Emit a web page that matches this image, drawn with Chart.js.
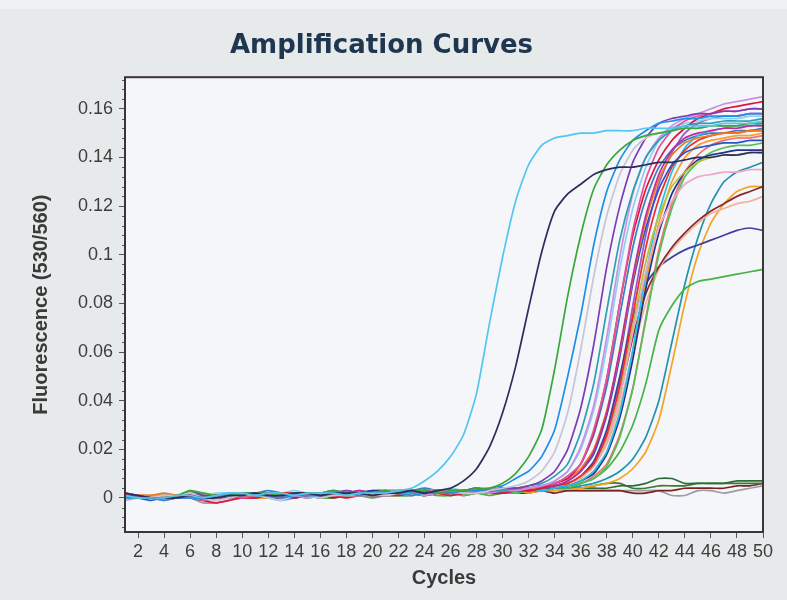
<!DOCTYPE html>
<html>
<head>
<meta charset="utf-8">
<title>Amplification Curves</title>
<script src="https://cdn.jsdelivr.net/npm/chart.js@4.4.1/dist/chart.umd.min.js"></script>
<style>
  html, body { margin: 0; padding: 0; background: #e7eaeb; }
  #wrap { width: 787px; height: 600px; }
</style>
</head>
<body>
<div id="wrap"><canvas id="amp" width="787" height="600"></canvas></div>
<script>
// cycle numbers and axis ticks
var cycles = [1,2,3,4,5,6,7,8,9,10,11,12,13,14,15,16,17,18,19,20,21,22,23,24,25,26,27,28,29,30,
  31,32,33,34,35,36,37,38,39,40,41,42,43,44,45,46,47,48,49,50];
var xTicks = [2,4,6,8,10,12,14,16,18,20,22,24,26,28,30,32,34,36,38,40,42,44,46,48,50];
var yTicks = [0, 0.02, 0.04, 0.06, 0.08, 0.1, 0.12, 0.14, 0.16];
var yTickLabels = ['0', '0.02', '0.04', '0.06', '0.08', '0.1', '0.12', '0.14', '0.16'];

// fluorescence per cycle, one array per well
var skyBlue = [.001,.000,.000,.000,.001,.001,.000,.001,.002,.002,
  .001,.002,.002,.001,.002,.002,.002,.001,.002,.002,
  .002,.003,.004,.007,.011,.017,.026,.043,.072,.099,
  .122,.137,.145,.148,.149,.150,.150,.151,.151,.151,
  .152,.152,.152,.153,.153,.153,.154,.154,.154,.155];
var navy = [.002,.001,.000,.000,.000,.001,.000,.000,.001,.001,
  .002,.001,.001,.002,.002,.001,.002,.002,.002,.001,
  .002,.002,.003,.002,.003,.004,.007,.012,.021,.035,
  .054,.078,.101,.118,.125,.129,.133,.135,.136,.136,
  .137,.138,.138,.139,.140,.140,.141,.141,.142,.142];
var green = [.001,.000,.000,.000,.001,.003,.002,.001,.001,.002,
  .002,.002,.001,.002,.002,.002,.003,.002,.002,.002,
  .003,.002,.003,.003,.002,.003,.003,.004,.004,.006,
  .010,.017,.028,.053,.083,.108,.127,.137,.143,.147,
  .149,.150,.151,.152,.152,.153,.153,.153,.154,.154];
var dodger = [.000,.000,.000,-.001,.000,.000,.000,.001,.001,.002,
  .001,.001,.000,.001,.001,.001,.002,.002,.001,.002,
  .002,.002,.001,.002,.002,.002,.003,.003,.004,.005,
  .008,.011,.017,.028,.050,.075,.104,.126,.139,.147,
  .151,.154,.155,.156,.156,.157,.157,.157,.158,.158];
var lightGrey = [.000,.000,.000,.001,.001,.002,.000,-.001,.000,.001,
  .001,.000,-.001,.001,.001,.000,.001,.001,.001,.002,
  .001,.002,.001,.002,.002,.003,.002,.002,.003,.004,
  .005,.007,.011,.019,.035,.061,.091,.116,.133,.143,
  .148,.150,.151,.152,.152,.153,.153,.153,.154,.154];
var purple = [.001,.001,.000,.000,.000,.003,.001,.001,.000,.001,
  .002,.002,.001,.002,.002,.001,.002,.003,.002,.002,
  .003,.002,.003,.003,.002,.003,.003,.004,.003,.004,
  .004,.005,.007,.011,.020,.037,.063,.095,.120,.138,
  .148,.154,.156,.157,.158,.158,.159,.159,.160,.160];
var teal = [.001,.000,.000,.000,.000,.001,.000,.000,.001,.001,
  .002,.001,.001,.002,.001,.002,.002,.001,.002,.002,
  .002,.003,.002,.002,.003,.002,.003,.003,.003,.003,
  .004,.005,.006,.009,.014,.027,.047,.077,.106,.126,
  .140,.147,.151,.153,.154,.154,.155,.155,.155,.156];
var lilac = [-.001,.000,.000,-.001,.000,.000,.000,.000,.001,.002,
  .001,.001,.000,.001,.000,.001,.002,.002,.001,.001,
  .001,.002,.002,.001,.002,.002,.002,.003,.002,.003,
  .003,.004,.005,.007,.011,.021,.038,.066,.099,.125,
  .140,.148,.153,.156,.158,.160,.162,.163,.164,.165];
var pink = [.002,.001,.000,-.001,.000,.000,-.001,.000,.001,.000,
  .001,.002,.001,.001,.002,.001,.001,.002,.002,.001,
  .002,.002,.002,.003,.002,.002,.003,.002,.003,.004,
  .003,.004,.005,.006,.009,.014,.028,.049,.080,.110,
  .131,.144,.151,.155,.157,.158,.159,.159,.160,.160];
var crimson = [.002,.000,.000,.000,.001,.001,-.001,-.002,-.001,.000,
  .000,.001,.001,.000,.001,.001,.001,.000,.001,.002,
  .002,.001,.002,.002,.002,.001,.002,.003,.002,.002,
  .003,.003,.004,.006,.008,.014,.027,.049,.080,.108,
  .127,.139,.147,.152,.156,.158,.160,.161,.162,.163];
var magenta = [.001,.001,.000,.000,.001,.001,.000,.000,.000,.001,
  .001,.002,.002,.001,.001,.002,.002,.002,.003,.002,
  .002,.003,.003,.002,.002,.003,.002,.003,.003,.003,
  .004,.003,.004,.005,.007,.011,.019,.035,.061,.091,
  .116,.133,.143,.148,.150,.151,.152,.152,.153,.153];
var orange = [.000,.001,.001,.002,.001,.000,.001,.001,.000,.000,
  .001,.001,.002,.001,.002,.002,.001,.001,.002,.001,
  .002,.002,.003,.002,.003,.003,.003,.002,.003,.004,
  .004,.004,.004,.006,.008,.012,.020,.036,.060,.090,
  .114,.131,.141,.146,.148,.149,.150,.150,.151,.151];
var royal = [.001,.000,-.001,.000,.000,.001,.001,.000,.001,.002,
  .002,.001,.001,.000,.001,.002,.001,.002,.002,.002,
  .001,.002,.002,.003,.002,.002,.002,.003,.003,.002,
  .003,.003,.004,.005,.007,.011,.018,.034,.058,.088,
  .111,.127,.137,.142,.144,.145,.146,.146,.147,.147];
var red = [.001,.001,.000,.000,.000,.000,.000,.001,.001,.001,
  .000,.001,.002,.002,.001,.001,.002,.001,.002,.002,
  .002,.002,.001,.002,.003,.002,.002,.003,.002,.003,
  .003,.004,.004,.005,.006,.009,.014,.026,.046,.075,
  .103,.123,.136,.143,.147,.149,.150,.150,.151,.151];
var lightPink = [.002,.001,.001,.000,.000,.001,.000,-.001,.000,.000,
  .001,.001,.002,.001,.001,.002,.002,.003,.002,.002,
  .002,.003,.002,.003,.003,.002,.003,.003,.004,.003,
  .004,.004,.004,.005,.006,.009,.013,.023,.041,.068,
  .093,.111,.122,.129,.132,.133,.134,.134,.135,.135];
var yellowGreen = [.000,.000,.001,.001,.000,.002,.001,.000,.001,.001,
  .002,.002,.001,.001,.002,.001,.002,.002,.001,.002,
  .003,.002,.002,.002,.003,.003,.002,.003,.003,.003,
  .004,.003,.004,.005,.006,.009,.013,.024,.043,.071,
  .097,.116,.128,.134,.138,.140,.141,.141,.142,.142];
var cyan = [.001,.000,.000,.000,.000,.000,.000,.001,.002,.002,
  .001,.000,-.001,.000,.001,.001,.001,.002,.001,.002,
  .002,.002,.003,.002,.002,.003,.003,.002,.003,.003,
  .003,.004,.003,.004,.005,.007,.011,.019,.035,.061,
  .092,.117,.134,.144,.149,.151,.152,.153,.153,.154];
var darkBlue = [.001,.001,.000,.001,.001,.001,.000,.000,.000,.001,
  .001,.002,.001,.002,.001,.002,.002,.001,.002,.003,
  .002,.002,.002,.003,.003,.002,.002,.003,.003,.004,
  .003,.004,.004,.004,.005,.007,.010,.018,.033,.057,
  .086,.109,.125,.134,.139,.141,.142,.143,.143,.143];
var orange2 = [.000,.000,.000,.000,.001,.001,.001,.000,.001,.001,
  .001,.001,.001,.002,.002,.001,.001,.001,.002,.002,
  .002,.003,.002,.002,.002,.003,.002,.002,.002,.003,
  .003,.003,.004,.004,.005,.007,.011,.019,.035,.060,
  .089,.113,.130,.140,.145,.147,.148,.149,.149,.150];
var lightBlue = [.001,.000,.000,.000,.000,.001,.001,.002,.002,.001,
  .002,.002,.002,.003,.002,.002,.002,.003,.002,.002,
  .003,.003,.003,.002,.003,.004,.003,.003,.003,.004,
  .004,.004,.005,.007,.011,.020,.036,.062,.094,.119,
  .136,.147,.152,.154,.155,.156,.156,.156,.157,.157];
var green2 = [.000,.000,.001,.000,.000,.002,.002,.001,.000,.001,
  .001,.001,.002,.001,.000,.001,.001,.002,.001,.002,
  .002,.001,.002,.002,.003,.002,.001,.002,.002,.003,
  .002,.003,.003,.004,.005,.006,.008,.013,.025,.045,
  .073,.100,.119,.132,.138,.142,.144,.145,.145,.146];
var steel = [.001,.001,.000,.000,.000,.001,.000,.000,.001,.002,
  .002,.003,.002,.001,.002,.002,.003,.002,.003,.002,
  .002,.003,.003,.004,.003,.003,.003,.004,.003,.004,
  .004,.004,.005,.006,.009,.014,.026,.046,.075,.103,
  .123,.136,.143,.147,.149,.150,.150,.151,.151,.152];
var brown = [.000,.000,.000,.000,.000,.000,.000,.000,.001,.001,
  .001,.000,.000,.001,.001,.001,.000,.001,.001,.001,
  .001,.002,.002,.001,.002,.002,.002,.003,.003,.002,
  .003,.003,.004,.005,.006,.009,.014,.024,.042,.066,
  .084,.095,.103,.109,.114,.118,.121,.124,.126,.128];
var peach = [.001,.000,.000,.001,.001,.001,.000,.000,.001,.001,
  .002,.001,.002,.002,.001,.002,.002,.002,.001,.002,
  .002,.002,.002,.003,.002,.003,.003,.003,.003,.003,
  .004,.004,.004,.005,.006,.008,.013,.022,.038,.060,
  .080,.094,.102,.108,.113,.117,.119,.121,.122,.124];
var slate = [.002,.001,.000,.000,.000,.001,.001,.001,.002,.002,
  .001,.001,.002,.002,.002,.001,.002,.002,.002,.003,
  .003,.002,.002,.003,.003,.003,.002,.003,.003,.004,
  .004,.004,.005,.005,.006,.009,.015,.028,.050,.074,
  .088,.095,.099,.102,.104,.106,.108,.110,.111,.110];
var lateGreen = [.001,.000,.000,.000,.001,.002,.001,.000,.000,.000,
  .000,.001,.001,.000,.001,.000,.000,.001,.001,.000,
  .001,.001,.001,.002,.001,.001,.002,.002,.001,.002,
  .002,.003,.003,.004,.004,.006,.008,.012,.019,.030,
  .047,.069,.079,.086,.089,.090,.091,.092,.093,.094];
var lateTeal = [.000,.000,.000,.000,.000,.001,.000,.000,.001,.001,
  .001,.001,.001,.001,.001,.002,.001,.001,.002,.001,
  .002,.002,.002,.001,.002,.002,.002,.003,.002,.003,
  .003,.003,.003,.004,.004,.005,.006,.008,.011,.016,
  .025,.040,.064,.088,.107,.121,.130,.134,.136,.138];
var lateOrange = [.000,.001,.001,.000,.000,.000,.000,.001,.001,.001,
  .000,.000,.001,.001,.002,.001,.001,.001,.001,.002,
  .001,.002,.002,.002,.002,.001,.002,.002,.003,.003,
  .003,.002,.003,.003,.004,.004,.005,.006,.008,.012,
  .019,.032,.055,.080,.100,.113,.121,.126,.128,.128];
var salmon = [.001,.001,.001,.000,.000,.000,.000,.000,.000,.001,
  .001,.001,.001,.002,.001,.001,.002,.002,.002,.002,
  .003,.002,.002,.002,.001,.002,.002,.002,.003,.003,
  .002,.003,.004,.004,.005,.006,.009,.014,.026,.045,
  .074,.102,.121,.134,.141,.145,.147,.148,.148,.149];
var violet = [.001,.001,.001,.001,.000,.000,.000,.000,.001,.000,
  .001,.002,.001,.001,.001,.002,.001,.002,.002,.002,
  .003,.002,.002,.003,.002,.002,.003,.003,.003,.003,
  .003,.004,.004,.005,.006,.009,.014,.027,.048,.079,
  .108,.129,.142,.150,.154,.156,.157,.157,.158,.158];
var darkGreenA = [.001,.001,.000,.000,.000,.002,.001,.000,.000,.001,
  .001,.001,.002,.001,.002,.001,.002,.002,.001,.002,
  .002,.002,.003,.002,.002,.003,.002,.003,.003,.003,
  .003,.003,.003,.004,.004,.004,.004,.004,.005,.005,
  .006,.008,.008,.006,.006,.006,.006,.007,.007,.007];
var darkGreenB = [.002,.001,.000,.000,.000,.001,.000,.000,.001,.001,
  .002,.002,.001,.002,.002,.002,.003,.002,.002,.002,
  .003,.003,.002,.003,.003,.002,.003,.003,.003,.004,
  .003,.004,.004,.004,.004,.004,.005,.006,.006,.004,
  .004,.005,.005,.005,.006,.006,.006,.006,.006,.006];
var darkRed = [.000,.000,.000,.000,.000,.000,-.001,.000,.000,.000,
  .001,.000,.001,.001,.001,.000,.001,.001,.001,.001,
  .001,.001,.002,.001,.002,.002,.001,.002,.002,.002,
  .002,.002,.003,.002,.003,.003,.003,.003,.003,.002,
  .002,.003,.003,.004,.004,.004,.004,.005,.005,.006];
var grey = [.001,.000,.000,.000,.000,.000,-.002,-.002,-.001,.000,
  .000,.000,.001,.001,.000,.001,.001,.001,.001,.002,
  .002,.001,.001,.002,.002,.001,.002,.002,.002,.003,
  .002,.003,.003,.003,.003,.003,.003,.003,.003,.003,
  .003,.003,.001,.001,.003,.003,.002,.003,.004,.005];

// well -> line colour (first one is drawn on top)
var wells = [
  [skyBlue, '#52c5f0'], [navy, '#2b2e5c'], [green, '#39a839'], [dodger, '#1e8fe8'],
  [lightGrey, '#c8c4d4'], [purple, '#7b3db3'], [teal, '#2aa0b2'], [lilac, '#c98fe2'],
  [pink, '#e2559e'], [crimson, '#e0153e'], [magenta, '#c22a9c'], [orange, '#f07a1a'],
  [royal, '#2a55c6'], [red, '#f02c2c'], [lightPink, '#eda6c8'], [yellowGreen, '#b3c23a'],
  [cyan, '#1ec2ec'], [darkBlue, '#1e3490'], [orange2, '#ff9a2a'], [lightBlue, '#8ecff4'],
  [green2, '#55bf55'], [steel, '#3a7fc0'], [brown, '#8a2b2b'], [peach, '#efb49a'],
  [slate, '#40409a'], [lateGreen, '#44b444'], [lateTeal, '#2392ad'], [lateOrange, '#f4a424'],
  [salmon, '#ef7070'], [violet, '#9a58cf'], [darkGreenA, '#2e6d3a'], [darkGreenB, '#3c7a2e'],
  [darkRed, '#7a2222'], [grey, '#9a9aa8']
];

var datasets = wells.map(function (w, i) {
  return {
    label: 'Well ' + (i + 1),
    data: w[0],
    borderColor: w[1],
    borderWidth: 1.7,
    pointRadius: 0,
    tension: 0.2,
    fill: false
  };
});

var frame = {
  id: 'frame',
  beforeDraw: function (chart) {
    var c = chart.ctx, a = chart.chartArea;
    c.save();
    c.fillStyle = '#e7eaeb';
    c.fillRect(0, 0, chart.width, chart.height);
    c.fillStyle = '#f0f1f2';
    c.fillRect(0, 0, chart.width, 9);
    c.fillStyle = '#f4f6fa';
    c.fillRect(a.left, a.top, a.right - a.left, a.bottom - a.top);
    c.restore();
  },
  afterDraw: function (chart) {
    var c = chart.ctx, a = chart.chartArea, y = chart.scales.y;
    c.save();
    // minor ticks on the fluorescence axis
    c.strokeStyle = '#555';
    c.lineWidth = 1;
    c.beginPath();
    for (var k = -3; k <= 43; k++) {
      if (k % 5 === 0) continue;
      var py = Math.round(y.getPixelForValue(k * 0.004)) + 0.5;
      if (py < a.top || py > a.bottom) continue;
      c.moveTo(a.left - 3, py);
      c.lineTo(a.left, py);
    }
    c.stroke();
    c.strokeStyle = '#3a3636';
    c.lineWidth = 2;
    c.strokeRect(a.left, a.top, a.right - a.left, a.bottom - a.top);
    c.restore();
  }
};

new Chart(document.getElementById('amp').getContext('2d'), {
  type: 'line',
  data: { labels: cycles, datasets: datasets },
  options: {
    responsive: false,
    devicePixelRatio: 1,
    animation: false,
    layout: { padding: { left: 0, right: 24, top: 0, bottom: 0 } },
    plugins: {
      legend: { display: false },
      tooltip: { enabled: false },
      title: {
        display: true,
        text: 'Amplification Curves',
        color: '#1f3650',
        font: { family: 'DejaVu Sans', size: 26, weight: 'bold' },
        padding: { top: 31, bottom: 15 }
      }
    },
    scales: {
      x: {
        type: 'linear',
        min: 1,
        max: 50,
        afterBuildTicks: function (s) { s.ticks = xTicks.map(function (v) { return { value: v }; }); },
        afterFit: function (s) { s.height = 68; },
        ticks: {
          autoSkip: false,
          maxRotation: 0,
          padding: 3,
          color: '#3d3d3d',
          font: { family: 'Liberation Sans', size: 18 },
          callback: function (v) { return String(v); }
        },
        grid: { drawOnChartArea: false, drawTicks: true, tickLength: 6, tickColor: '#555' },
        border: { display: false },
        title: {
          display: true,
          text: 'Cycles',
          color: '#3a3a3a',
          font: { family: 'Liberation Sans', size: 20, weight: 'bold' },
          padding: { top: 0, bottom: 10 }
        }
      },
      y: {
        type: 'linear',
        min: -0.014,
        max: 0.173,
        afterBuildTicks: function (s) { s.ticks = yTicks.map(function (v) { return { value: v }; }); },
        afterFit: function (s) { s.width = 125; },
        ticks: {
          padding: 6,
          color: '#3d3d3d',
          font: { family: 'Liberation Sans', size: 18 },
          callback: function (v, i) { return yTickLabels[i]; }
        },
        grid: { drawOnChartArea: false, drawTicks: true, tickLength: 6, tickColor: '#555' },
        border: { display: false },
        title: {
          display: true,
          text: 'Fluorescence (530/560)',
          color: '#3a3a3a',
          font: { family: 'Liberation Sans', size: 20, weight: 'bold' },
          padding: { top: 29, bottom: 0 }
        }
      }
    }
  },
  plugins: [frame]
});
</script>
</body>
</html>
